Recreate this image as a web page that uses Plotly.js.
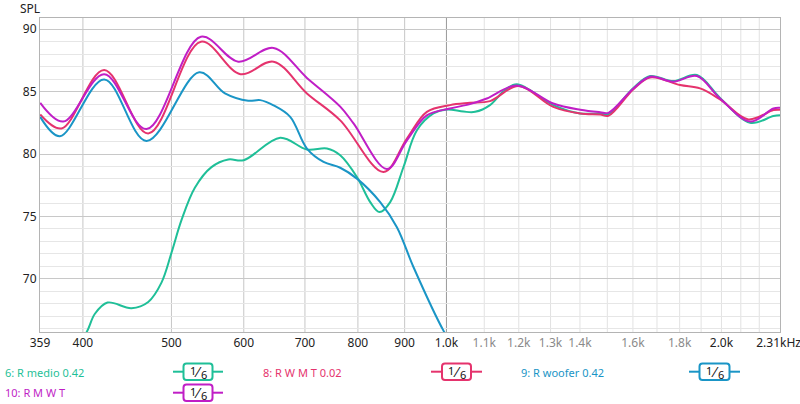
<!DOCTYPE html>
<html>
<head>
<meta charset="utf-8">
<script src="https://cdn.plot.ly/plotly-3.0.1.min.js"></script>
<style>html,body{margin:0;padding:0;background:#fff;}#chart{width:800px;height:404px;}</style>
</head>
<body>
<div id="chart"></div>
<script>
// ---- Data ----
const seriesNames = ["6: R medio 0.42", "8: R W M T 0.02", "9: R woofer 0.42", "10: R M W T"];

const medioFreq = [385, 403.6, 412.3, 425.6, 452.1, 471.6, 487.6, 500.1, 512.8, 530.4, 553.1, 577, 599.7, 657.7, 703.5, 739.9, 765.1, 798, 825.2, 844.7, 867.8, 897.4, 928.3, 967.8, 1001, 1044, 1075, 1116, 1154, 1194, 1309, 1401, 1473, 1504, 1602, 1671, 1772, 1880, 1993, 2150, 2280, 2318];
const medioSPL  = [63.6, 65.7, 67.2, 68.1, 67.65, 68.15, 69.7, 72.1, 74.7, 77.3, 78.95, 79.56, 79.5, 81.3, 80.36, 80.44, 79.9, 78.16, 76.15, 75.35, 76.15, 78.96, 81.9, 83.25, 83.57, 83.4, 83.38, 83.92, 85.0, 85.6, 83.92, 83.25, 83.25, 83.2, 85.3, 86.25, 85.85, 86.33, 84.5, 82.5, 83.04, 83.1];

const rwmtFreq = [359.2, 379, 422, 471.6, 538.5, 595, 646.7, 703.5, 765.1, 853.3, 905.2, 951.8, 1009, 1061, 1116, 1199, 1309, 1401, 1473, 1504, 1602, 1671, 1802, 1895, 1993, 2140, 2280, 2318];
const rwmtSPL  = [83.17, 82.05, 86.73, 81.65, 89.0, 86.4, 87.4, 84.86, 82.7, 78.56, 81.24, 83.38, 83.92, 84.1, 84.24, 85.45, 83.78, 83.25, 83.17, 83.06, 85.2, 86.14, 85.53, 85.26, 84.38, 82.77, 83.52, 83.55];

const wooferFreq = [359.2, 377.5, 422, 469.5, 536.2, 572.2, 606.8, 625.4, 646.7, 674.5, 703.5, 733.6, 765.1, 798, 846.2, 882.6, 920.4, 992.5, 1040];
const wooferSPL  = [82.98, 81.43, 85.98, 81.05, 86.55, 84.86, 84.27, 84.32, 83.9, 82.98, 80.44, 79.37, 78.9, 78.03, 76.15, 74.14, 70.93, 65.85, 63.5];

const rmwtFreq = [359.2, 380.6, 422, 469.5, 538.5, 591.7, 646.7, 703.5, 765.1, 791.2, 860.6, 905.2, 951.8, 1009, 1061, 1107, 1194, 1309, 1401, 1473, 1504, 1602, 1671, 1772, 1880, 1993, 2150, 2280, 2318];
const rmwtSPL  = [84.1, 82.6, 86.4, 82.0, 89.4, 87.4, 88.5, 86.1, 83.8, 82.45, 78.8, 81.1, 83.1, 83.65, 84.0, 84.45, 85.5, 84.05, 83.55, 83.35, 83.3, 85.25, 86.2, 85.8, 86.25, 84.45, 82.6, 83.65, 83.7];

const xTickVals  = [359, 400, 500, 600, 700, 800, 900, 1000, 1100, 1200, 1300, 1400, 1600, 1800, 2000, 2310];
const xTickText  = ["359", "400", "500", "600", "700", "800", "900", "1.0k", "1.1k", "1.2k", "1.3k", "1.4k", "1.6k", "1.8k", "2.0k", "2.31kHz"];
const xTickMuted = [false, false, false, false, false, false, false, false, true, true, true, true, true, true, false, false];
const gridMid    = [400, 500, 600, 700, 800, 900];
const gridMajor  = [1000];
const gridLight  = [1100, 1200, 1300, 1400, 1500, 1600, 1700, 1800, 1900, 2000, 2100, 2200];

const colors = ["#1fbf98", "#e5336d", "#1a95c6", "#c01ec6"];

// ---- Geometry helpers (plot area in pixels) ----
const W = 800, H = 404, L = 40, R = 780, T = 18, B = 332;
const px = x => (x - L) / (R - L);
const py = y => (B - y) / (B - T);

const traces = [
  {x: medioFreq, y: medioSPL, name: seriesNames[0], line: {color: colors[0]}},
  {x: rwmtFreq, y: rwmtSPL, name: seriesNames[1], line: {color: colors[1]}},
  {x: wooferFreq, y: wooferSPL, name: seriesNames[2], line: {color: colors[2]}},
  {x: rmwtFreq, y: rmwtSPL, name: seriesNames[3], line: {color: colors[3]}}
].map(t => Object.assign(t, {type: "scatter", mode: "lines", line: Object.assign(t.line, {width: 2, shape: "spline", smoothing: 1}), hoverinfo: "skip", cliponaxis: true}));

const shapes = [];
gridLight.forEach(v => shapes.push({type: "line", xref: "x", yref: "paper", x0: v, x1: v, y0: 0, y1: 1, line: {color: "#e2e2e2", width: 1}, layer: "below"}));
gridMid.forEach(v => shapes.push({type: "line", xref: "x", yref: "paper", x0: v, x1: v, y0: 0, y1: 1, line: {color: "#c6c6c6", width: 1}, layer: "below"}));
gridMajor.forEach(v => shapes.push({type: "line", xref: "x", yref: "paper", x0: v, x1: v, y0: 0, y1: 1, line: {color: "#9a9a9a", width: 1}, layer: "below"}));

const annotations = [];
// legend symbol: line with rounded box containing 1/6
function legendSymbol(xl, xr, bl, br, yc, color) {
  const h = 8.3, r = 3;
  shapes.push({type: "line", xref: "paper", yref: "paper", x0: px(xl), x1: px(bl), y0: py(yc), y1: py(yc), line: {color: color, width: 2}});
  shapes.push({type: "line", xref: "paper", yref: "paper", x0: px(br), x1: px(xr), y0: py(yc), y1: py(yc), line: {color: color, width: 2}});
  const yt = yc - h, yb = yc + h;
  const path = `M ${px(bl + r)} ${py(yt)} L ${px(br - r)} ${py(yt)} Q ${px(br)} ${py(yt)} ${px(br)} ${py(yt + r)} ` +
    `L ${px(br)} ${py(yb - r)} Q ${px(br)} ${py(yb)} ${px(br - r)} ${py(yb)} L ${px(bl + r)} ${py(yb)} ` +
    `Q ${px(bl)} ${py(yb)} ${px(bl)} ${py(yb - r)} L ${px(bl)} ${py(yt + r)} Q ${px(bl)} ${py(yt)} ${px(bl + r)} ${py(yt)} Z`;
  shapes.push({type: "path", xref: "paper", yref: "paper", path: path, line: {color: color, width: 2}, fillcolor: "#ffffff"});
  const cx = (bl + br) / 2;
  annotations.push({text: "1", x: px(cx - 5.5), y: py(yc - 1.5), xanchor: "center", yanchor: "middle", font: {size: 11, color: "#111"}});
  annotations.push({text: "⁄", x: px(cx + 0.3), y: py(yc), xanchor: "center", yanchor: "middle", font: {size: 14, color: "#111"}});
  annotations.push({text: "6", x: px(cx + 6), y: py(yc + 2.5), xanchor: "center", yanchor: "middle", font: {size: 11, color: "#111"}});
}
legendSymbol(173, 223, 183.5, 212.5, 371.7, colors[0]);
legendSymbol(431, 482, 442, 471, 371.7, colors[1]);
legendSymbol(689, 740, 699.5, 729.5, 371.7, colors[2]);
legendSymbol(173, 223, 183.5, 212.5, 392.7, colors[3]);

const font = "Noto Sans, Open Sans, sans-serif";
annotations.push(
  {text: "SPL", x: px(19), y: py(8), xanchor: "left", yanchor: "middle", font: {size: 12, color: "#222"}},
  {text: seriesNames[0], x: px(4), y: py(372), xanchor: "left", yanchor: "middle", font: {size: 11, color: colors[0]}},
  {text: seriesNames[1], x: px(262), y: py(372), xanchor: "left", yanchor: "middle", font: {size: 11, color: colors[1]}},
  {text: seriesNames[2], x: px(520), y: py(372), xanchor: "left", yanchor: "middle", font: {size: 11, color: colors[2]}},
  {text: seriesNames[3], x: px(4), y: py(392), xanchor: "left", yanchor: "middle", font: {size: 11, color: colors[3]}}
);
annotations.forEach((a, i) => { annotations[i] = Object.assign({xref: "paper", yref: "paper", showarrow: false, borderpad: 0}, a); });

const ticktext = xTickText.map((t, i) => xTickMuted[i] ? `<span style="color:#8a8a8a">${t}</span>` : t);

const layout = {
  width: W, height: H,
  margin: {l: L, r: W - R, t: T, b: H - B, pad: 0},
  paper_bgcolor: "#ffffff", plot_bgcolor: "#ffffff",
  showlegend: false,
  font: {family: font, size: 12, color: "#222"},
  xaxis: {
    type: "log", range: [Math.log10(359), Math.log10(2318)],
    tickmode: "array", tickvals: xTickVals, ticktext: ticktext,
    showgrid: false, zeroline: false, ticks: "", ticklabeloverflow: "allow",
    showline: true, mirror: true, linecolor: "#b4b4b4", linewidth: 1,
    tickfont: {size: 12, color: "#222"}
  },
  yaxis: {
    range: [65.74, 90.9], tick0: 70, dtick: 5,
    showgrid: true, gridcolor: "#c8c8c8", gridwidth: 1, zeroline: false, ticks: "",
    minor: {dtick: 1, tick0: 65, showgrid: true, gridcolor: "#e6e6e6", gridwidth: 1},
    showline: true, mirror: true, linecolor: "#b4b4b4", linewidth: 1,
    tickfont: {size: 12, color: "#222"}
  },
  shapes: shapes,
  annotations: annotations
};

Plotly.newPlot("chart", traces, layout, {staticPlot: true, displayModeBar: false});
</script>
</body>
</html>
